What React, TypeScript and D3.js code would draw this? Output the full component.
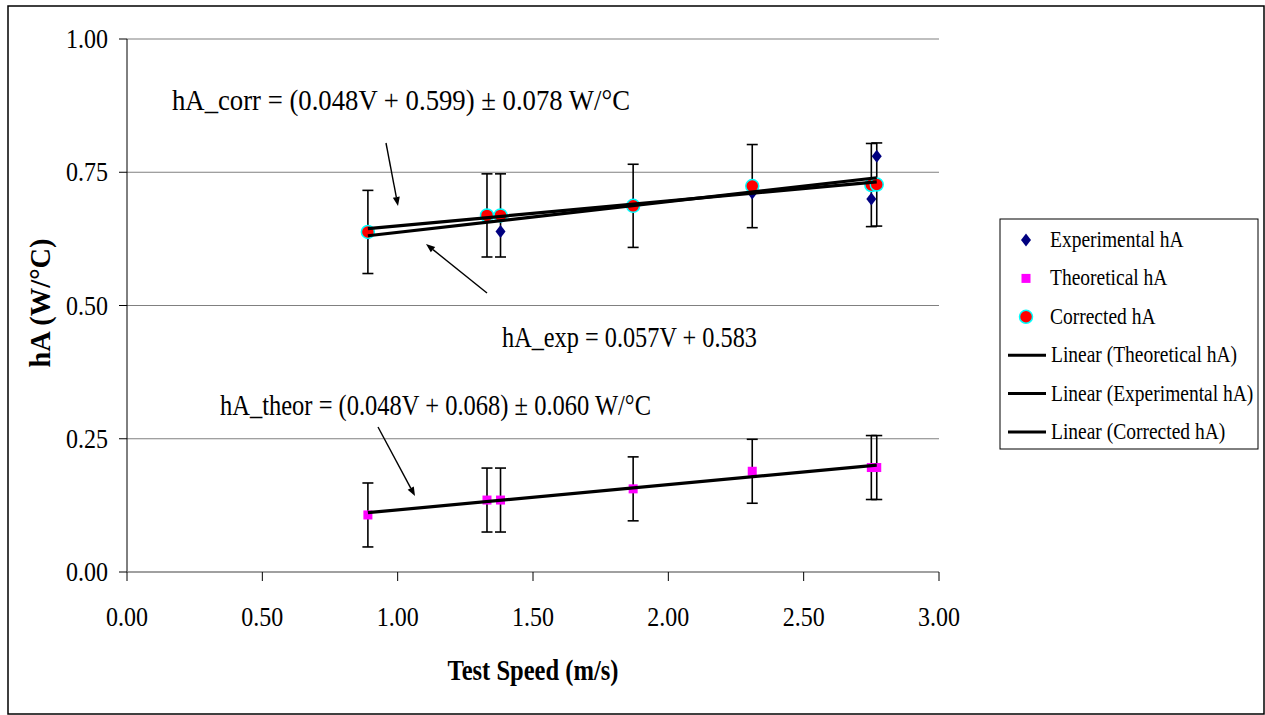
import React from 'react';
import * as d3 from 'd3';

const width = 1265;
const height = 715;

// test speeds (m/s), one per run
const speeds = [0.89, 1.33, 1.38, 1.87, 2.31, 2.75, 2.77];
const experimental = [0.635, 0.67, 0.639, 0.69, 0.711, 0.70, 0.78];
const theoretical = [0.107, 0.135, 0.135, 0.156, 0.189, 0.196, 0.196];
const corrected = [0.638, 0.669, 0.669, 0.687, 0.724, 0.726, 0.727];
const theorErr = 0.060;
const corrErr = 0.078;

const xTicks = [0, 0.5, 1, 1.5, 2, 2.5, 3];
const yTicks = [0, 0.25, 0.5, 0.75, 1];

const legendItems = [
  'Experimental hA',
  'Theoretical hA',
  'Corrected hA',
  'Linear (Theoretical hA)',
  'Linear (Experimental hA)',
  'Linear (Corrected hA)',
];

const font = '"Liberation Serif", "Times New Roman", serif';

const x = d3.scaleLinear().domain([0, 3]).range([127, 939]);
const y = d3.scaleLinear().domain([0, 1]).range([572, 39]);

// least squares trendline
const fit = (xs: number[], ys: number[]) => {
  const mx = d3.mean(xs)!;
  const my = d3.mean(ys)!;
  const sxy = d3.sum(xs, (v, i) => (v - mx) * (ys[i] - my));
  const sxx = d3.sum(xs, v => (v - mx) ** 2);
  const m = sxy / sxx;
  return { m, b: my - m * mx };
};

const trendPath = (ys: number[]) => {
  const { m, b } = fit(speeds, ys);
  const ext = d3.extent(speeds) as [number, number];
  return d3.line<number>().x(v => x(v)).y(v => y(m * v + b))(ext) || '';
};

const fmt = d3.format('.2f');

// text slightly stretched vertically, like the original export
const T = ({ x: tx, y: ty, size, len, anchor, bold, children, sy = 1.15 }: any) => (
  <text
    transform={`translate(${tx},${ty}) scale(1,${sy})`}
    fontSize={size}
    textAnchor={anchor || 'start'}
    fontWeight={bold ? 'bold' : 'normal'}
    textLength={len}
    lengthAdjust={len ? 'spacingAndGlyphs' : undefined}
  >
    {children}
  </text>
);

const Diamond = ({ cx, cy }: { cx: number; cy: number }) => (
  <path d={`M${cx},${cy - 6.5}L${cx + 5},${cy}L${cx},${cy + 6.5}L${cx - 5},${cy}Z`} fill="#000080" />
);
const Square = ({ cx, cy }: { cx: number; cy: number }) => (
  <rect x={cx - 4.5} y={cy - 4.5} width={9} height={9} fill="#FF00FF" />
);
const Dot = ({ cx, cy }: { cx: number; cy: number }) => (
  <circle cx={cx} cy={cy} r={6.5} fill="#FF0000" stroke="#00FFFF" strokeWidth={1.5} />
);

const ErrBar = ({ v, val, err }: { v: number; val: number; err: number }) => {
  const cx = x(v);
  return (
    <g stroke="#000" strokeWidth={1.6}>
      <line x1={cx} x2={cx} y1={y(val + err)} y2={y(val - err)} />
      <line x1={cx - 5.5} x2={cx + 5.5} y1={y(val + err)} y2={y(val + err)} />
      <line x1={cx - 5.5} x2={cx + 5.5} y1={y(val - err)} y2={y(val - err)} />
    </g>
  );
};

const Arrow = ({ x1, y1, x2, y2 }: { x1: number; y1: number; x2: number; y2: number }) => {
  const a = Math.atan2(y2 - y1, x2 - x1);
  const L = 9, W = 3.5;
  const bx = x2 - L * Math.cos(a), by = y2 - L * Math.sin(a);
  const px = -Math.sin(a) * W, py = Math.cos(a) * W;
  return (
    <g>
      <line x1={x1} y1={y1} x2={bx} y2={by} stroke="#000" strokeWidth={1.4} />
      <path d={`M${x2},${y2}L${bx + px},${by + py}L${bx - px},${by - py}Z`} fill="#000" />
    </g>
  );
};

const App = () => {
  return (
    <svg width={width} height={height} style={{ position: 'absolute', left: 0, top: 0, background: '#fff' }} fontFamily={font}>
      <rect x={8} y={6} width={1256} height={708} fill="#fff" stroke="#000" strokeWidth={1.5} />

      {/* gridlines */}
      {yTicks.filter(t => t > 0).map(t => (
        <line key={t} x1={x(0)} x2={x(3)} y1={y(t)} y2={y(t)} stroke="#808080" strokeWidth={1.2} />
      ))}

      {/* axes */}
      <line x1={x(0)} x2={x(0)} y1={y(0)} y2={y(1)} stroke="#000" strokeWidth={1} />
      <line x1={x(0)} x2={x(3)} y1={y(0)} y2={y(0)} stroke="#808080" strokeWidth={1.4} />
      {yTicks.map(t => (
        <g key={t}>
          <line x1={x(0) - 8} x2={x(0)} y1={y(t)} y2={y(t)} stroke="#000" />
          <T x={108} y={y(t) + 9} size={24} len={42} anchor="end">{fmt(t)}</T>
        </g>
      ))}
      {xTicks.map(t => (
        <g key={t}>
          <line x1={x(t)} x2={x(t)} y1={y(0)} y2={y(0) + 9} stroke="#000" />
          <T x={x(t)} y={626} size={24} len={42} anchor="middle">{fmt(t)}</T>
        </g>
      ))}

      <T x={533} y={680} size={25} len={171} anchor="middle" bold>Test Speed (m/s)</T>
      <text transform="translate(50,303) rotate(-90) scale(1,1.15)" textAnchor="middle" fontSize={25} fontWeight="bold" textLength={129} lengthAdjust="spacingAndGlyphs">hA  (W/°C)</text>

      {/* error bars */}
      {speeds.map((v, i) => <ErrBar key={'et' + i} v={v} val={theoretical[i]} err={theorErr} />)}
      {speeds.map((v, i) => <ErrBar key={'ec' + i} v={v} val={corrected[i]} err={corrErr} />)}

      {/* markers */}
      {speeds.map((v, i) => <Square key={'t' + i} cx={x(v)} cy={y(theoretical[i])} />)}
      {speeds.map((v, i) => <Diamond key={'e' + i} cx={x(v)} cy={y(experimental[i])} />)}
      {speeds.map((v, i) => <Dot key={'c' + i} cx={x(v)} cy={y(corrected[i])} />)}

      {/* trendlines */}
      <path d={trendPath(theoretical)} stroke="#000" strokeWidth={3.2} fill="none" />
      <path d={trendPath(experimental)} stroke="#000" strokeWidth={3.2} fill="none" />
      <path d={trendPath(corrected)} stroke="#000" strokeWidth={3.2} fill="none" />

      {/* annotations */}
      <T x={172} y={110} size={25} len={458}>hA_corr = (0.048V + 0.599) ± 0.078 W/°C</T>
      <T x={502} y={347} size={25} len={255}>hA_exp = 0.057V + 0.583</T>
      <T x={220} y={415} size={25} len={431}>hA_theor = (0.048V + 0.068) ± 0.060 W/°C</T>
      <Arrow x1={386} y1={143} x2={398} y2={206} />
      <Arrow x1={487} y1={293} x2={426} y2={244} />
      <Arrow x1={378} y1={427} x2={415} y2={496} />

      {/* legend */}
      <rect x={1000} y={219} width={258} height={230} fill="#fff" stroke="#000" strokeWidth={1} />
      {legendItems.map((name, i) => {
        const cy = 240 + i * 38.4;
        return (
          <g key={name}>
            {i === 0 && <Diamond cx={1026} cy={cy} />}
            {i === 1 && <Square cx={1026} cy={cy} />}
            {i === 2 && <Dot cx={1026} cy={cy} />}
            {i > 2 && <line x1={1008} x2={1046} y1={cy} y2={cy} stroke="#000" strokeWidth={3} />}
            <T x={i > 2 ? 1051 : 1050} y={cy + 7} size={19.5}>{name}</T>
          </g>
        );
      })}
    </svg>
  );
};

export default App;
